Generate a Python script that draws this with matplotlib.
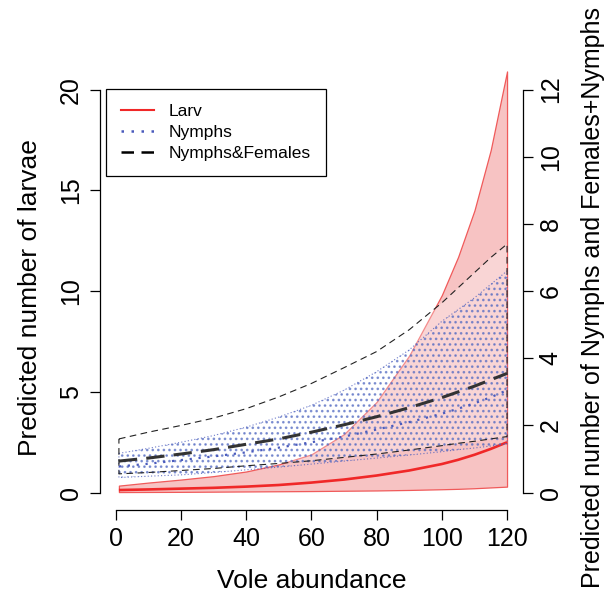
import matplotlib
matplotlib.use('Agg')
import matplotlib.pyplot as plt
from matplotlib.lines import Line2D

# vole abundance values where the curves were read
vole = [1, 10, 20, 30, 40, 50, 60, 70, 80, 90, 100, 105, 110, 115, 120]

# larvae (left axis)
larv_mean = [0.13, 0.16, 0.2, 0.24, 0.3, 0.38, 0.5, 0.65, 0.85, 1.1, 1.42, 1.63, 1.88, 2.17, 2.5]
larv_low = [0.03, 0.035, 0.04, 0.05, 0.06, 0.07, 0.08, 0.095, 0.11, 0.135, 0.17, 0.19, 0.22, 0.26, 0.3]
larv_up = [0.35, 0.5, 0.65, 0.82, 1.05, 1.4, 1.9, 2.9, 4.5, 6.8, 9.8, 11.7, 14.0, 17.0, 20.9]

# nymphs (right axis)
nym_mean = [0.78, 0.86, 0.97, 1.08, 1.2, 1.34, 1.5, 1.67, 1.88, 2.1, 2.35, 2.5, 2.66, 2.84, 3.05]
nym_low = [0.45, 0.49, 0.53, 0.6, 0.68, 0.76, 0.85, 0.94, 1.03, 1.12, 1.22, 1.28, 1.33, 1.39, 1.45]
nym_up = [1.17, 1.32, 1.5, 1.7, 1.95, 2.25, 2.6, 3.05, 3.6, 4.25, 5.1, 5.45, 5.8, 6.2, 6.6]

# nymphs & females (right axis)
nf_mean = [0.94, 1.03, 1.15, 1.28, 1.44, 1.6, 1.8, 2.02, 2.26, 2.53, 2.83, 3.0, 3.17, 3.36, 3.55]
nf_low = [0.56, 0.6, 0.66, 0.72, 0.8, 0.87, 0.95, 1.05, 1.15, 1.27, 1.4, 1.47, 1.53, 1.6, 1.67]
nf_up = [1.6, 1.8, 2.0, 2.22, 2.5, 2.85, 3.25, 3.72, 4.2, 4.85, 5.65, 6.1, 6.55, 7.0, 7.4]

x_ticks = [0, 20, 40, 60, 80, 100, 120]
left_ticks = [0, 5, 10, 15, 20]
right_ticks = [0, 2, 4, 6, 8, 10, 12]
legend_labels = ['Larv', 'Nymphs', 'Nymphs&Females']

plt.rcParams['font.family'] = ['Liberation Sans', 'DejaVu Sans']
plt.rcParams['hatch.linewidth'] = 1.1

RED = '#F02828'
PINK = '#F7C3C3'
BLUE = '#4A5BBD'
DARK = '#222222'

fig = plt.figure(figsize=(6.11, 6.0), dpi=100)
ax = fig.add_axes([100 / 611, 1 - 510 / 600, 422.7 / 611, 468 / 600])
ax.set_xlim(-4.8, 124.8)
ax.set_ylim(-0.86, 22.36)
ax2 = ax.twinx()
ax2.set_ylim(-0.86 * 0.6, 22.36 * 0.6)

# larvae band and mean
ax.fill_between(vole, larv_low, larv_up, facecolor=PINK, edgecolor='#F05a5a', linewidth=0.9)
ax.plot(vole, larv_mean, color=RED, lw=1.9, solid_capstyle='butt')

# nymphs & females band (light veil), nymphs hatched band
ax2.fill_between(vole, nf_low, nf_up, facecolor=(1, 1, 1, 0.3), edgecolor='none')
ax2.fill_between(vole, nym_low, nym_up, facecolor='none', edgecolor=(0.33, 0.42, 0.76, 0.7),
                 hatch='...', linewidth=0)

# band outlines
band_x = vole + vole[::-1] + [vole[0]]
ax2.plot(band_x, nym_up + nym_low[::-1] + [nym_up[0]], color=BLUE, lw=0.8, ls=(0, (1, 2)), alpha=0.8)
ax2.plot(band_x, nf_up + nf_low[::-1] + [nf_up[0]], color=DARK, lw=0.8, ls=(0, (6, 4)))

# mean lines
ax2.plot(vole, nym_mean, color=BLUE, lw=1.6, ls=(0, (1, 3)))
ax2.plot(vole, nf_mean, color='#333333', lw=2.2, ls=(0, (6, 3)))

# axes in R style
for s in ['top', 'right']:
    ax.spines[s].set_visible(False)
for s in ['top', 'left', 'bottom']:
    ax2.spines[s].set_visible(False)
ax.spines['left'].set_bounds(0, 20)
ax.spines['bottom'].set_bounds(0, 120)
ax2.spines['right'].set_bounds(0, 12)
for sp in [ax.spines['left'], ax.spines['bottom'], ax2.spines['right']]:
    sp.set_linewidth(0.9)

ax.set_xticks(x_ticks)
ax.set_yticks(left_ticks)
ax2.set_yticks(right_ticks)
ax.tick_params(axis='x', length=7.5, width=0.9, pad=5, labelsize=18)
ax.tick_params(axis='y', length=7.5, width=0.9, pad=5, labelsize=18)
ax2.tick_params(axis='y', length=7.5, width=0.9, pad=4, labelsize=18)
for lab in ax.get_yticklabels():
    lab.set_rotation(90)
    lab.set_va('center')
for lab in ax2.get_yticklabels():
    lab.set_rotation(90)
    lab.set_va('center')

ax.set_xlabel('Vole abundance', fontsize=19)
ax.xaxis.label.set_va('center')
ax.xaxis.set_label_coords(0.5, (510 - 581) / 468)
ax.set_ylabel('Predicted number of larvae', fontsize=19)
ax.yaxis.label.set_va('center')
ax.yaxis.set_label_coords((30 - 100) / 422.7, (510 - 298) / 468)
ax2.set_ylabel('Predicted number of Nymphs and Females+Nymphs', fontsize=18)
ax2.yaxis.label.set_va('center')
ax2.yaxis.set_label_coords((593 - 100) / 422.7, (510 - 297) / 468)

handles = [
    Line2D([], [], color=RED, lw=1.5),
    Line2D([], [], color=BLUE, lw=1.8, ls=(0, (1, 3))),
    Line2D([], [], color='black', lw=1.8, ls=(0, (5, 3))),
]
leg = ax2.legend(handles, legend_labels, loc='upper left',
                 bbox_to_anchor=(106 / 611, 1 - 89 / 600), bbox_transform=fig.transFigure,
                 borderaxespad=0, fontsize=12.5, fancybox=False, framealpha=1,
                 edgecolor='black', borderpad=0.85, labelspacing=0.34,
                 handlelength=1.9, handletextpad=0.86)
leg.get_frame().set_linewidth(0.9)

fig.savefig('out.png', dpi=100)
